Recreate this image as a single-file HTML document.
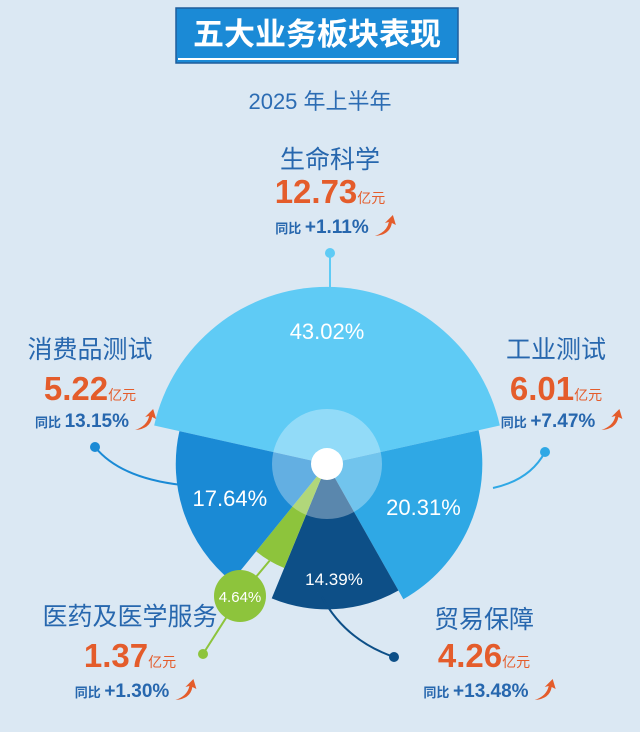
<!DOCTYPE html>
<html><head><meta charset="utf-8"><style>
body{margin:0;background:#dbe8f3;}
svg{display:block;font-family:"Liberation Sans","Noto Sans CJK SC",sans-serif;}
</style></head><body>
<svg id="chart" width="640" height="732" viewBox="0 0 640 732">
<rect x="0" y="0" width="640" height="732" fill="#dbe8f3"/>
<g>
<rect x="176" y="8" width="282" height="55" fill="#1b8ad6" stroke="#1f5e9c" stroke-width="1.5"/>
<line x1="178" y1="59" x2="456" y2="59" stroke="#fff" stroke-width="2"/>
<text x="317" y="45" text-anchor="middle" font-size="31" font-weight="bold" fill="#fff">五大业务板块表现</text>
</g>
<text x="320" y="109" text-anchor="middle" font-size="22" fill="#2c6cb3">2025 年上半年</text>
<g id="sectors"></g>
<g id="labels"></g>
</svg>
<script>
const names = ["生命科学","工业测试","贸易保障","医药及医学服务","消费品测试"];
const shares = [43.02, 20.31, 14.39, 4.64, 17.64];
const revenue = ["12.73","6.01","4.26","1.37","5.22"];
const growth = ["+1.11%","+7.47%","+13.48%","+1.30%","13.15%"];
const shareLabels = ["43.02%","20.31%","14.39%","4.64%","17.64%"];
const colors = ["#5fcbf5","#2fa8e5","#0d4f87","#8dc43c","#1a8ad5"];

const NS="http://www.w3.org/2000/svg";
const cx=327, cy=464;
const total=shares.reduce((a,b)=>a+b,0);
function rScale(v){return 68+29*Math.log(v);}
function pt(a,r){const t=a*Math.PI/180;return [cx+r*Math.sin(t), cy-r*Math.cos(t)];}
const g=document.getElementById('sectors');
let start=-shares[0]/total*180;
const mids=[],radii=[];
shares.forEach((v,i)=>{
  const span=v/total*360, end=start+span, r=rScale(v);
  const p1=pt(start,r), p2=pt(end,r);
  const p=document.createElementNS(NS,'path');
  p.setAttribute('d',`M${cx},${cy}L${p1[0]},${p1[1]}A${r},${r} 0 ${span>180?1:0} 1 ${p2[0]},${p2[1]}Z`);
  p.setAttribute('fill',colors[i]);
  
  
  g.appendChild(p);
  mids.push(start+span/2); radii.push(r);
  start=end;
});
const inner=document.createElementNS(NS,'circle');
inner.setAttribute('cx',cx);inner.setAttribute('cy',cy);inner.setAttribute('r',55);
inner.setAttribute('fill','rgba(255,255,255,0.32)');


g.appendChild(inner);
const hub=document.createElementNS(NS,'circle');
hub.setAttribute('cx',cx);hub.setAttribute('cy',cy);hub.setAttribute('r',16);hub.setAttribute('fill','#fff');


g.appendChild(hub);
shares.forEach((v,i)=>{
  if(i===3) return;
  const rr = i===0?0.75:(i===2?0.78:0.68);
  const q=pt(mids[i],radii[i]*rr);
  const t=document.createElementNS(NS,'text');
  t.setAttribute('x',q[0]);t.setAttribute('y',q[1]+8);
  t.setAttribute('text-anchor','middle');t.setAttribute('fill','#fff');
  t.setAttribute('font-size',i===2?17:22);
  t.textContent=shareLabels[i];
  
  
  g.appendChild(t);
});
const gq=pt(mids[3],radii[3]);
const gl=document.createElementNS(NS,'path');
gl.setAttribute('d',`M${gq[0]},${gq[1]}L240,596L203,654`);
gl.setAttribute('stroke','#8dc43c');gl.setAttribute('stroke-width','2');gl.setAttribute('fill','none');


g.appendChild(gl);
const gb=document.createElementNS(NS,'circle');
gb.setAttribute('cx',240);gb.setAttribute('cy',596);gb.setAttribute('r',26);gb.setAttribute('fill','#8dc43c');


g.appendChild(gb);
const gt=document.createElementNS(NS,'text');
gt.setAttribute('x',240);gt.setAttribute('y',602);gt.setAttribute('text-anchor','middle');
gt.setAttribute('font-size',15);gt.setAttribute('fill','#fff');gt.textContent=shareLabels[3];


g.appendChild(gt);

const L=document.getElementById('labels');
const layout=[
 {x:330,ny:168,vy:203,gy:233,dot:[330,253],line:'M330,253L330,292',c:'#5fcbf5'},
 {x:556,ny:358,vy:400,gy:427,dot:[545,452],line:'M545,452Q530,480 493,488',c:'#2fa8e5'},
 {x:484,ny:628,vy:667,gy:697,dot:[394,657],line:'M322,597Q345,640 394,657',c:'#0d4f87'},
 {x:130,ny:625,vy:667,gy:697,dot:[203,654],line:'',c:'#8dc43c'},
 {x:90,ny:358,vy:400,gy:427,dot:[95,447],line:'M95,447Q120,478 182,485',c:'#1a8ad5'}
];
function el(tag,attrs,txt){const e=document.createElementNS(NS,tag);for(const k in attrs)e.setAttribute(k,attrs[k]);if(txt)e.textContent=txt;L.appendChild(e);return e;}
names.forEach((n,i)=>{
  const o=layout[i];
  if(o.line){const ln=el('path',{d:o.line,stroke:o.c,'stroke-width':2,fill:'none'});
    }
  const d=el('circle',{cx:o.dot[0],cy:o.dot[1],r:5,fill:o.c});
  
  const t=el('text',{x:o.x,y:o.ny,'text-anchor':'middle','font-size':25,fill:'#2767ae'},n);
  
  const v=el('text',{x:o.x,y:o.vy,'text-anchor':'middle',fill:'#e45c2b','font-weight':'bold'});
  
  const s1=document.createElementNS(NS,'tspan');s1.setAttribute('font-size',33);s1.textContent=revenue[i];v.appendChild(s1);
  const s2=document.createElementNS(NS,'tspan');s2.setAttribute('font-size',14);s2.setAttribute('font-weight','normal');s2.textContent='亿元';v.appendChild(s2);
  const gr=el('text',{x:o.x-8,y:o.gy,'text-anchor':'middle',fill:'#2767ae','font-weight':'bold'});
  
  const a1=document.createElementNS(NS,'tspan');a1.setAttribute('font-size',13);a1.textContent='同比 ';gr.appendChild(a1);
  const a2=document.createElementNS(NS,'tspan');a2.setAttribute('font-size',19);a2.textContent=growth[i];gr.appendChild(a2);
  const bb=gr.getBBox();
  const ax=bb.x+bb.width+6, ay=o.gy+3;
  const ar=el('path',{d:`M${ax},${ay} Q${ax+12},${ay-4} ${ax+14},${ay-14} L${ax+10},${ay-13} L${ax+18},${ay-21} L${ax+21},${ay-11} L${ax+17},${ay-13} Q${ax+15},${ay-1} ${ax},${ay}Z`,fill:'#e45c2b'});
  
});
</script>
</body></html>
